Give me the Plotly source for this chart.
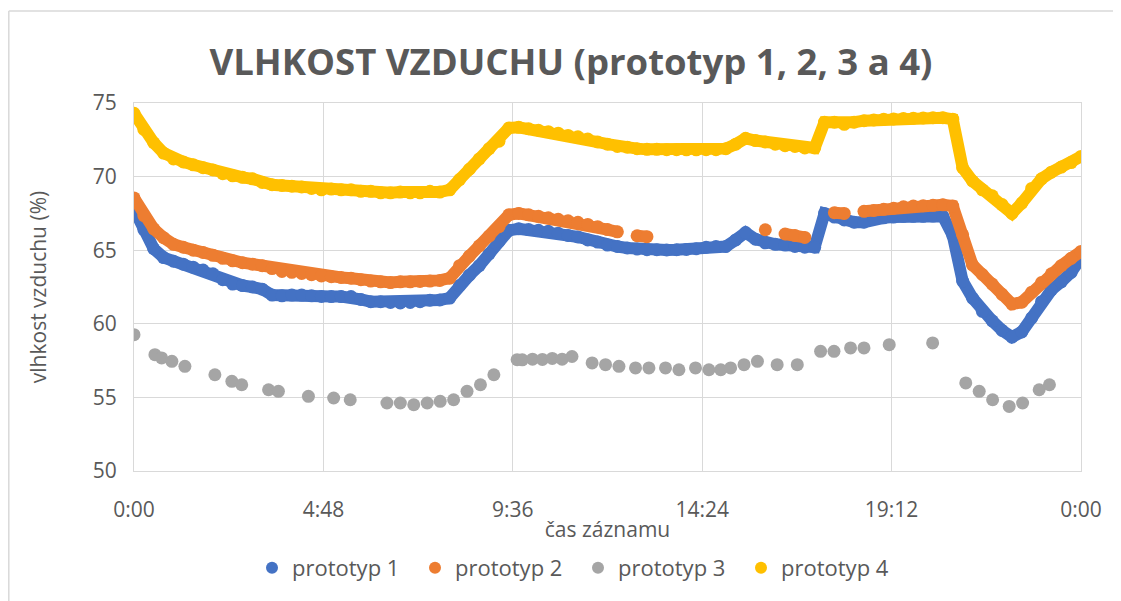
import plotly.graph_objects as go

# time of record in hours (0 = 0:00, 24 = 0:00 next day)
t_dense = [i * 0.25 for i in range(97)]

prototyp_1 = [
    67.8, 66.4, 65.1, 64.5, 64.25, 64.05, 63.85, 63.65, 63.4, 63.0,
    62.7, 62.6, 62.5, 62.35, 61.95, 61.9, 61.95, 61.95, 61.9, 61.86,
    61.85, 61.85, 61.85, 61.65, 61.5, 61.5, 61.45, 61.42, 61.45, 61.5,
    61.6, 61.62, 61.75, 62.6, 63.3, 63.95, 64.75, 65.6, 66.35, 66.45,
    66.4, 66.35, 66.28, 66.15, 66.0, 65.9, 65.7, 65.55, 65.35, 65.25,
    65.15, 65.08, 65.03, 65.03, 65.02, 65.03, 65.05, 65.1, 65.2, 65.25,
    65.25, 65.7, 66.2, 65.75, 65.5, 65.4, 65.35, 65.25, 65.2, 65.2,
    67.5, 67.25, 67.05, 66.9, 66.9, 67.15, 67.2, 67.25, 67.3, 67.3,
    67.3, 67.32, 67.3, 66.0, 62.9, 61.75, 60.85, 60.2, 59.55, 59.1,
    59.45, 60.4, 61.5, 62.3, 62.85, 63.5, 64.47,
]

prototyp_2 = [
    68.55, 67.35, 66.45, 65.85, 65.4, 65.2, 65.0, 64.85, 64.65, 64.45,
    64.28, 64.15, 64.05, 63.95, 63.75, 63.56, 63.5, 63.42, 63.34, 63.25,
    63.2, 63.15, 63.1, 63.0, 62.9, 62.85, 62.8, 62.85, 62.85, 62.88,
    62.9, 62.95, 63.1, 63.95, 64.6, 65.3, 65.95, 66.6, 67.4, 67.5,
    67.4, 67.3, 67.2, 67.1, 67.0, 66.9, 66.75, 66.6, 66.4, 66.25,
    None, 65.98, 65.92, None, None, None, None, None, None, None,
    None, None, None, None, 66.39, None, 66.1, 66.0, 65.87, None,
    None, 67.55, 67.5, None, 67.64, 67.7, 67.78, 67.85, 67.95, 68.0,
    68.02, 68.05, 68.08, 68.0, 66.05, 64.0, 63.35, 62.7, 62.0, 61.34,
    61.47, 62.15, 62.8, 63.4, 63.95, 64.45, 64.92,
]

prototyp_4 = [
    74.3, 73.2, 72.3, 71.6, 71.2, 71.0, 70.8, 70.6, 70.45, 70.2,
    70.05, 69.95, 69.85, 69.6, 69.45, 69.4, 69.35, 69.3, 69.2, 69.1,
    69.15, 69.1, 69.1, 69.0, 69.0, 68.9, 68.9, 68.95, 68.9, 68.9,
    69.0, 68.95, 69.1, 69.8, 70.5, 71.2, 71.9, 72.4, 73.3, 73.35,
    73.25, 73.15, 73.05, 72.95, 72.8, 72.7, 72.55, 72.35, 72.2, 72.05,
    72.0, 71.9, 71.85, 71.85, 71.83, 71.83, 71.82, 71.82, 71.83, 71.83,
    71.9, 72.2, 72.6, 72.45, 72.35, 72.2, 72.1, 72.05, 71.95, 71.95,
    73.7, 73.7, 73.55, 73.7, 73.8, 73.85, 73.9, 73.92, 73.95, 73.97,
    73.98, 74.0, 74.0, 73.9, 70.6, 69.7, 69.1, 68.7, 68.1, 67.5,
    68.2, 69.2, 69.85, 70.3, 70.65, 70.95, 71.37,
]

t_p3 = [
    0.0, 0.53, 0.7, 0.96, 1.29, 2.05, 2.48, 2.73, 3.41, 3.66, 4.42,
    5.06, 5.48, 6.41, 6.75, 7.09, 7.43, 7.76, 8.1, 8.44, 8.78, 9.12,
    9.71, 9.84, 10.1, 10.35, 10.6, 10.85, 11.1, 11.61, 11.95, 12.29,
    12.71, 13.05, 13.47, 13.81, 14.23, 14.57, 14.87, 15.12, 15.46, 15.8,
    16.3, 16.81, 17.4, 17.74, 18.16, 18.5, 19.14, 20.24, 21.08, 21.42,
    21.76, 22.18, 22.52, 22.94, 23.2,
]
prototyp_3 = [
    59.26, 57.9, 57.68, 57.45, 57.11, 56.54, 56.09, 55.86, 55.52, 55.41, 55.07,
    54.96, 54.84, 54.62, 54.62, 54.5, 54.62, 54.73, 54.84, 55.41, 55.86, 56.54,
    57.56, 57.55, 57.6, 57.58, 57.65, 57.6, 57.78, 57.34, 57.22, 57.11,
    57.0, 57.0, 57.0, 56.88, 57.0, 56.88, 56.88, 57.0, 57.22, 57.45,
    57.22, 57.22, 58.13, 58.13, 58.36, 58.36, 58.58, 58.7, 55.98, 55.41,
    54.84, 54.39, 54.62, 55.52, 55.86,
]

x_tickvals = [0, 4.8, 9.6, 14.4, 19.2, 24]
x_ticktext = ["0:00", "4:48", "9:36", "14:24", "19:12", "0:00"]
y_tickvals = [50, 55, 60, 65, 70, 75]

names = ["prototyp 1", "prototyp 2", "prototyp 3", "prototyp 4"]
colors = ["#4472C4", "#ED7D31", "#A5A5A5", "#FFC000"]

TXT = "#595959"
GRID = "#D9D9D9"
FONT = "Open Sans"

# page body has an 8px margin: figure coordinates = page coordinates - 8
W, H = 1113, 593
PL, PR, PT, PB = 126, 1073, 95, 463   # plot area in figure px
PW, PHh = PR - PL, PB - PT


def px_x(p):
    return (p - 8 - PL) / PW


def px_y(p):
    return (PB - (p - 8)) / PHh


fig = go.Figure()

dense = {0: prototyp_1, 1: prototyp_2, 3: prototyp_4}
for idx in [0, 1, 2, 3]:
    if idx == 2:
        fig.add_trace(go.Scatter(
            x=t_p3, y=prototyp_3, mode="markers", name=names[idx],
            marker=dict(size=13, color=colors[idx]), showlegend=False,
            legendgroup=names[idx]))
    else:
        fig.add_trace(go.Scatter(
            x=t_dense, y=dense[idx], mode="lines+markers", name=names[idx],
            line=dict(color=colors[idx], width=12),
            marker=dict(size=13, color=colors[idx]),
            connectgaps=False, showlegend=False, legendgroup=names[idx]))

# legend entries (dots only, as in the reference)
for idx in range(4):
    fig.add_trace(go.Scatter(
        x=[None], y=[None], mode="markers", name=names[idx],
        marker=dict(size=14, color=colors[idx]), legendgroup=names[idx]))

fig.update_layout(
    width=W, height=H,
    margin=dict(l=PL, r=W - PR, t=PT, b=H - PB),
    paper_bgcolor="white", plot_bgcolor="white",
    font=dict(family=FONT, color=TXT, size=21),
    title=dict(text="<b>VLHKOST VZDUCHU (prototyp 1, 2, 3 a 4)</b>",
               x=(571 - 8) / W, xanchor="center", xref="container",
               y=1 - (62 - 8) / H, yanchor="middle", yref="container",
               font=dict(family=FONT, size=36.5, color=TXT)),
    showlegend=True,
    legend=dict(orientation="h", x=px_x(578), xanchor="center",
                y=px_y(568), yanchor="middle",
                font=dict(family=FONT, size=22, color=TXT),
                entrywidth=118, entrywidthmode="pixels",
                itemsizing="constant", bgcolor="rgba(0,0,0,0)"),
    xaxis=dict(range=[0, 24], tickvals=x_tickvals, ticktext=x_ticktext,
               showgrid=True, gridcolor=GRID, gridwidth=1,
               showline=True, linecolor=GRID, linewidth=1, mirror=True,
               zeroline=False, ticks="", ticklabelstandoff=20,
               tickfont=dict(size=21, color=TXT),
               title=dict(text="čas záznamu", standoff=0,
                          font=dict(size=21, color=TXT))),
    yaxis=dict(range=[50, 75], tickvals=y_tickvals,
               showgrid=True, gridcolor=GRID, gridwidth=1,
               showline=True, linecolor=GRID, linewidth=1, mirror=True,
               zeroline=False, ticks="", ticklabelstandoff=12,
               tickfont=dict(size=21, color=TXT),
               title=dict(text="vlhkost vzduchu (%)", standoff=40,
                          font=dict(size=21, color=TXT))),
    shapes=[
        dict(type="line", xref="paper", yref="paper",
             x0=px_x(8.8), x1=px_x(1130), y0=px_y(11), y1=px_y(11),
             line=dict(color=GRID, width=1.5)),
        dict(type="line", xref="paper", yref="paper",
             x0=px_x(8.8), x1=px_x(8.8), y0=px_y(11), y1=px_y(610),
             line=dict(color=GRID, width=1.5)),
    ],
)

fig.write_html("out.html")
